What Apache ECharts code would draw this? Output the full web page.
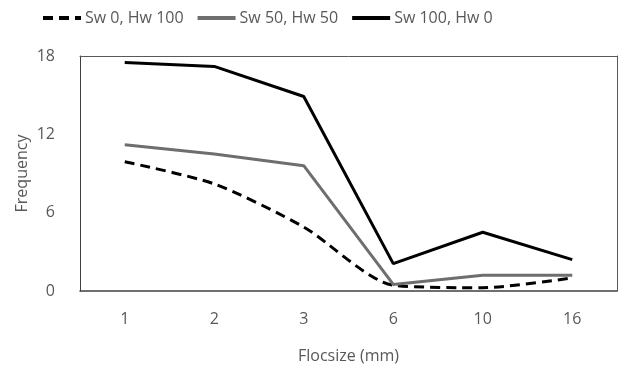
<!DOCTYPE html>
<html><head><meta charset="utf-8">
<script src="https://cdn.jsdelivr.net/npm/echarts@6/dist/echarts.min.js"></script>
<style>html,body{margin:0;padding:0;background:#fff}#c{width:630px;height:370px}</style>
</head><body><div id="c"></div>
<script>
const categories = ['1', '2', '3', '6', '10', '16'];
const sw0hw100 = [9.9, 8.2, 4.9, 0.45, 0.25, 1.0];
const sw50hw50 = [11.2, 10.5, 9.6, 0.5, 1.2, 1.2];
const sw100hw0 = [17.5, 17.2, 14.9, 2.1, 4.5, 2.4];
const seriesNames = ['Sw 0, Hw 100', 'Sw 50, Hw 50', 'Sw 100, Hw 0'];
const yTicks = [0, 6, 12, 18];

const font = 'Open Sans';
const txt = '#595959';
const chart = echarts.init(document.getElementById('c'));
chart.setOption({
  animation: false,
  textStyle: { fontFamily: font },
  legend: {
    top: 5, left: 36,
    itemWidth: 38, itemHeight: 10, itemGap: 12,
    itemStyle: { opacity: 0 },
    lineStyle: { width: 4 },
    textStyle: { fontFamily: font, fontSize: 16, color: txt, padding: [0, 0, 0, -1] },
    data: seriesNames
  },
  grid: { left: 80, right: 13, top: 56, bottom: 79, outerBoundsMode: 'none', containLabel: false },
  xAxis: [{
    type: 'category', data: categories, boundaryGap: true,
    name: 'Flocsize (mm)', nameLocation: 'middle', nameGap: 57, nameMoveOverlap: false,
    nameTextStyle: { fontFamily: font, fontSize: 16, color: txt },
    axisLine: { onZero: false, lineStyle: { color: '#404040', width: 1.5 } },
    axisTick: { show: false },
    axisLabel: { fontFamily: font, fontSize: 16, color: txt, margin: 20 }
  }, {
    type: 'category', data: categories, position: 'top',
    axisLine: { onZero: false, lineStyle: { color: '#595959', width: 1 } },
    axisTick: { show: false }, axisLabel: { show: false }
  }],
  yAxis: [{
    type: 'value', min: 0, max: 18, interval: 6,
    name: 'Frequency', nameLocation: 'middle', nameGap: 50, nameMoveOverlap: false,
    nameTextStyle: { fontFamily: font, fontSize: 16, color: txt },
    axisLine: { show: true, onZero: false, lineStyle: { color: '#404040', width: 1 } },
    axisTick: { show: false }, splitLine: { show: false },
    axisLabel: { fontFamily: font, fontSize: 16, color: txt, margin: 25,
      formatter: v => yTicks.includes(v) ? String(v) : '' }
  }, {
    type: 'value', min: 0, max: 18, interval: 6, position: 'right',
    axisLine: { show: true, onZero: false, lineStyle: { color: '#595959', width: 1 } },
    axisTick: { show: false }, splitLine: { show: false }, axisLabel: { show: false }
  }],
  series: [
    { name: seriesNames[0], type: 'line', data: sw0hw100, symbol: 'none', smooth: 0.25,
      lineStyle: { color: '#000', width: 3, type: [10, 6] }, itemStyle: { color: '#000' } },
    { name: seriesNames[1], type: 'line', data: sw50hw50, symbol: 'none',
      lineStyle: { color: '#6e6e6e', width: 3 }, itemStyle: { color: '#6e6e6e' } },
    { name: seriesNames[2], type: 'line', data: sw100hw0, symbol: 'none',
      lineStyle: { color: '#000', width: 3 }, itemStyle: { color: '#000' } }
  ]
});
</script></body></html>
